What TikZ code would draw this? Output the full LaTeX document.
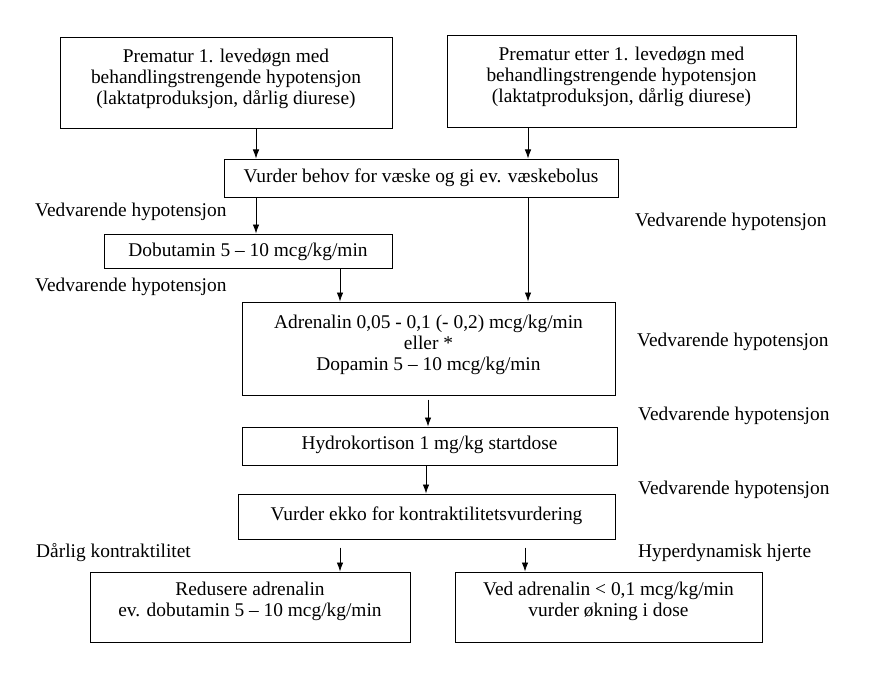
\documentclass[tikz,border=0pt]{standalone}
\usepackage{fontspec}
\setmainfont{Liberation Serif}
\usetikzlibrary{arrows.meta}
\newcommand{\bxtext}[4]{\parbox[c][#2][t]{#1}{\centering\vspace*{#3}#4\par}}
\begin{document}
\begin{tikzpicture}[x=1pt,y=-1pt,
  box/.style={draw,line width=1pt,inner sep=0pt,font=\fontsize{19.4}{21}\selectfont},
  lbl/.style={anchor=west,inner sep=0pt,font=\fontsize{19.4}{21}\selectfont},
  arr/.style={line width=0.8pt,-{Latex[length=9pt,width=6.5pt]}}]
\useasboundingbox[fill=white] (0,0) rectangle (894,682);
% boxes
\node[box] (A) at (226,83.5) {\bxtext{332pt}{91pt}{10.8pt}{Prematur 1. levedøgn med\\behandlingstrengende hypotensjon\\(laktatproduksjon, dårlig diurese)}};
\node[box] (B) at (621.5,82) {\bxtext{349pt}{92pt}{10.8pt}{Prematur etter 1. levedøgn med\\behandlingstrengende hypotensjon\\(laktatproduksjon, dårlig diurese)}};
\node[box] (C) at (421,178) {\bxtext{394pt}{38pt}{9.8pt}{Vurder behov for væske og gi ev. væskebolus}};
\node[box] (D) at (248,251) {\bxtext{288pt}{34pt}{9.5pt}{Dobutamin 5 – 10 mcg/kg/min}};
\node[box] (E) at (428.5,348.5) {\bxtext{373pt}{93pt}{12.8pt}{Adrenalin 0,05 - 0,1 (- 0,2) mcg/kg/min\\eller *\\Dopamin 5 – 10 mcg/kg/min}};
\node[box] (F) at (429.5,446) {\bxtext{375pt}{38pt}{8.8pt}{Hydrokortison 1 mg/kg startdose}};
\node[box] (G) at (426.5,516.5) {\bxtext{377pt}{45pt}{12.8pt}{Vurder ekko for kontraktilitetsvurdering}};
\node[box] (H) at (250,607) {\bxtext{320pt}{70pt}{9.8pt}{Redusere adrenalin\\ev. dobutamin 5 – 10 mcg/kg/min}};
\node[box] (I) at (608.5,607) {\bxtext{307pt}{70pt}{9.8pt}{Ved adrenalin < 0,1 mcg/kg/min\\vurder økning i dose}};
% labels
\node[lbl] (L1) at (35,212) {Vedvarende hypotensjon};
\node[lbl] (L2) at (635,222) {Vedvarende hypotensjon};
\node[lbl] (L3) at (35,287) {Vedvarende hypotensjon};
\node[lbl] (L4) at (637,342) {Vedvarende hypotensjon};
\node[lbl] (L5) at (638,416) {Vedvarende hypotensjon};
\node[lbl] (L6) at (638,490) {Vedvarende hypotensjon};
\node[lbl] (L7) at (36,553) {Dårlig kontraktilitet};
\node[lbl] (L8) at (638,553) {Hyperdynamisk hjerte};
% columns
\coordinate (c1) at (256,0);
\coordinate (c2) at (528,0);
\coordinate (c3) at (340,0);
\coordinate (c4) at (428,0);
\coordinate (c5) at (426,0);
\coordinate (c6) at (525,0);
% arrows
\draw[arr] (A.south -| c1) -- (C.north -| c1);
\draw[arr] (B.south -| c2) -- (C.north -| c2);
\draw[arr] (C.south -| c1) -- (D.north -| c1);
\draw[arr] (C.south -| c2) -- (E.north -| c2);
\draw[arr] (D.south -| c3) -- (E.north -| c3);
\draw[arr] ([yshift=-4pt]E.south -| c4) -- (F.north -| c4);
\draw[arr] (F.south -| c5) -- (G.north -| c5);
\draw[arr] ([yshift=-8pt]G.south -| c3) -- (H.north -| c3);
\draw[arr] ([yshift=-8pt]G.south -| c6) -- (I.north -| c6);
\end{tikzpicture}
\end{document}
